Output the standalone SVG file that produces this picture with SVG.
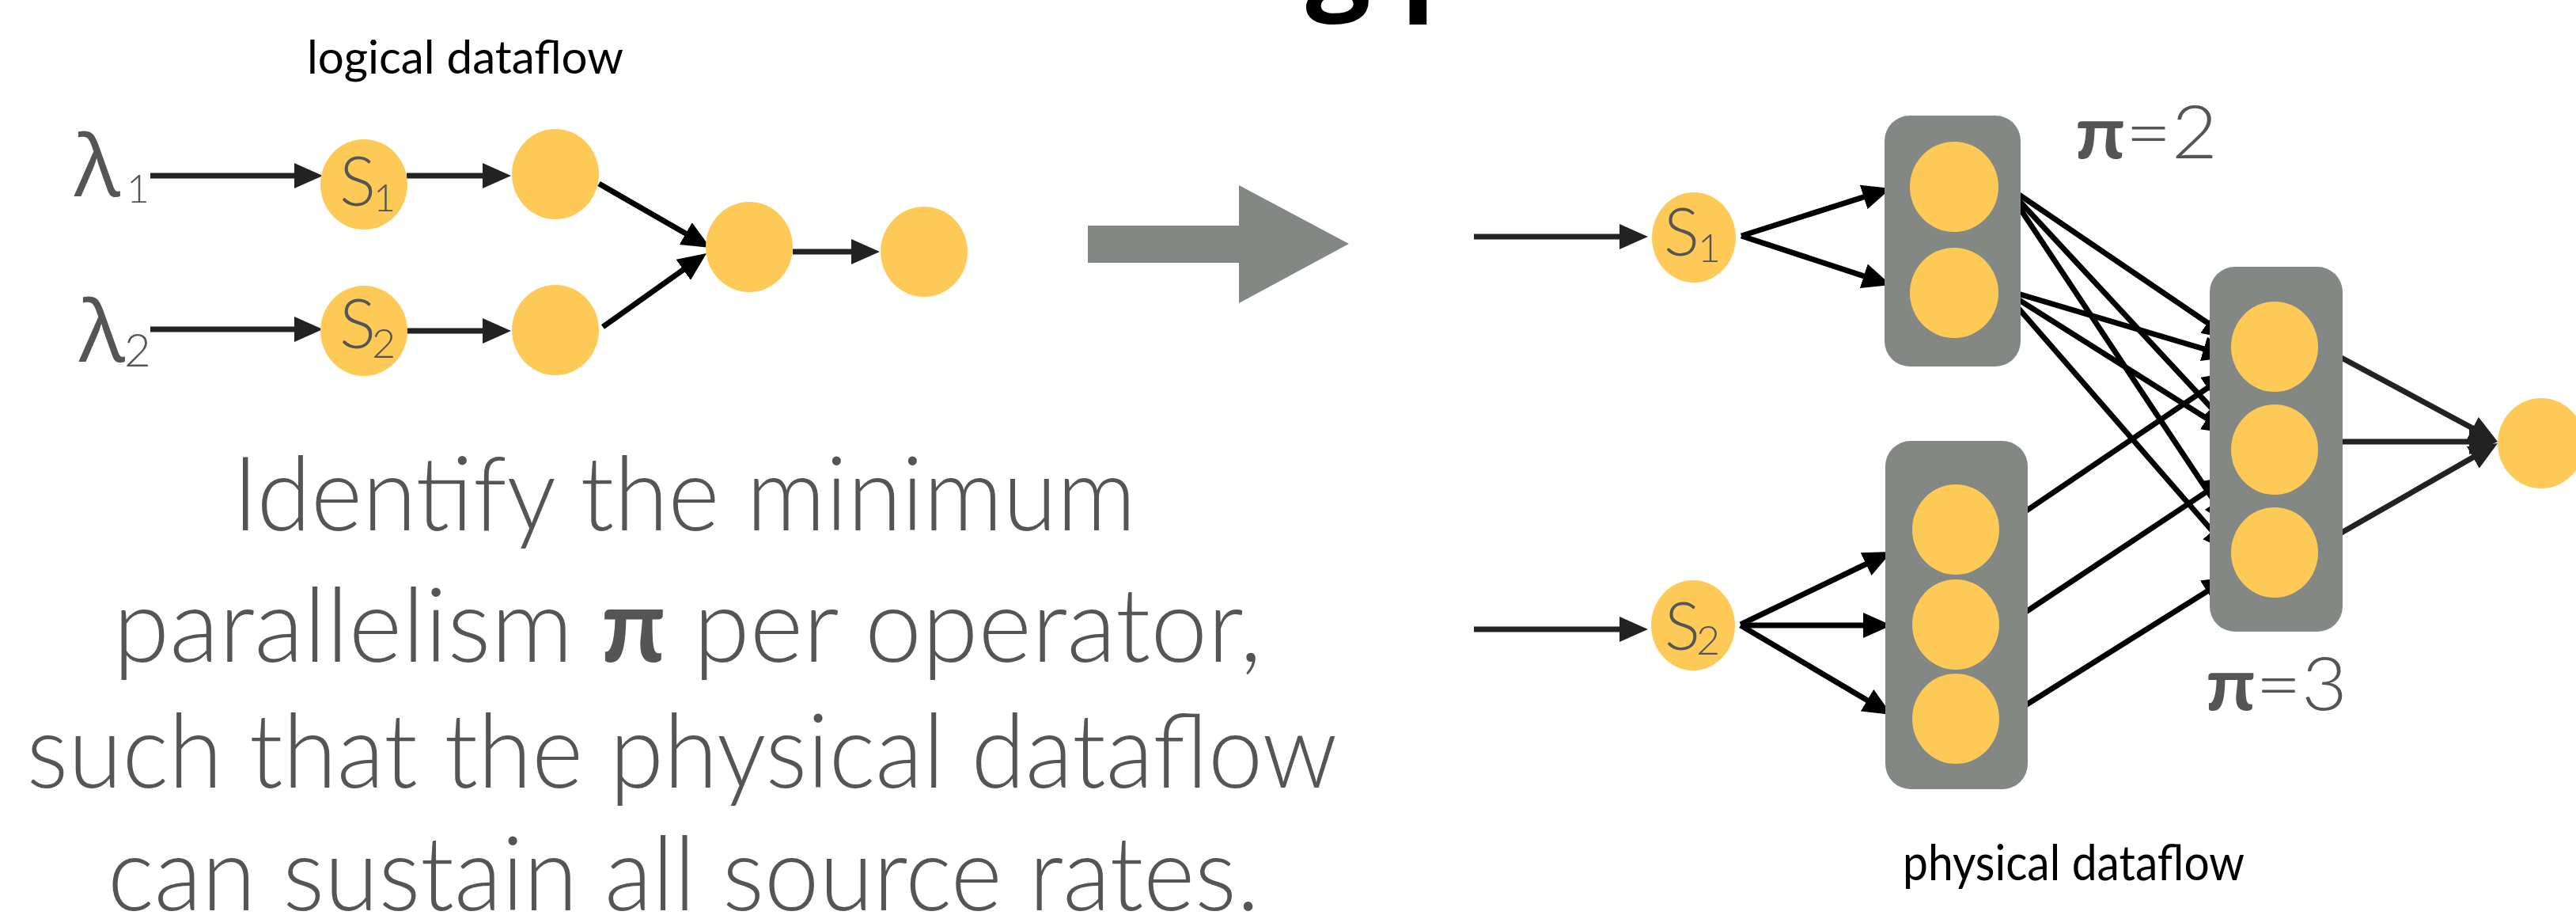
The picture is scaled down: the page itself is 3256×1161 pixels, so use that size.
<svg xmlns="http://www.w3.org/2000/svg" width="3256" height="1161" viewBox="0 0 3256 1161">
<style>
.bg{fill:#ffffff}
.node{fill:#FECA57}
.box{fill:#838885}
.big{fill:#838885}
.lbl{font-family:Lato,"Open Sans","Noto Sans",sans-serif;fill:#555555;font-weight:300}
.lam{font-family:"Open Sans","Noto Sans",sans-serif;fill:#555555;font-weight:400}
.cap{font-family:Lato,"Open Sans","Noto Sans",sans-serif;fill:#000000;font-weight:400}
.pi{font-weight:700}
.title{font-family:"Open Sans","Noto Sans",sans-serif;font-weight:700;fill:#000000}
.e1{stroke:#222222;stroke-width:7;fill:none;marker-end:url(#ah1)}
.e2{stroke:#000000;stroke-width:7;fill:none;marker-end:url(#ah2)}
</style>
<defs>
<marker id="ah1" markerUnits="userSpaceOnUse" markerWidth="36" markerHeight="32" refX="14" refY="16" orient="auto" viewBox="0 0 36 32">
<path d="M0,0 L36,16 L0,32 z" fill="#222222"/>
</marker>
<marker id="ah2" markerUnits="userSpaceOnUse" markerWidth="36" markerHeight="32" refX="14" refY="16" orient="auto" viewBox="0 0 36 32">
<path d="M0,0 L36,16 L0,32 z" fill="#000000"/>
</marker>
</defs>
<rect class="bg" x="0" y="0" width="3256" height="1161"/>

<g id="title"><text class="title" x="930" y="-4" font-size="145">The scaling problem</text></g>

<g id="logical-label"><text class="cap" x="388" y="93" font-size="58" textLength="400" lengthAdjust="spacingAndGlyphs">logical dataflow</text></g>
<g id="physical-label"><text class="cap" x="2405" y="1112" font-size="62" textLength="432" lengthAdjust="spacingAndGlyphs">physical dataflow</text></g>

<g id="lambda1"><text class="lam" x="94" y="248" font-size="108">λ</text><text class="lbl" x="160" y="256" font-size="50">1</text></g>
<g id="lambda2"><text class="lam" x="100" y="457" font-size="108">λ</text><text class="lbl" x="157" y="463" font-size="58">2</text></g>

<g id="big-arrow"><polygon class="big" points="1375,285 1566,285 1566,234 1705,308 1566,383 1566,332 1375,332"/></g>

<g id="statement">
<text class="lbl" x="865" y="670" font-size="131" text-anchor="middle" textLength="1142" lengthAdjust="spacingAndGlyphs">Identify the minimum</text>
<text class="lbl" x="869" y="836" font-size="131" text-anchor="middle" textLength="1452" lengthAdjust="spacingAndGlyphs">parallelism <tspan class="pi">π</tspan> per operator,</text>
<text class="lbl" x="862" y="995" font-size="131" text-anchor="middle" textLength="1657" lengthAdjust="spacingAndGlyphs">such that the physical dataflow</text>
<text class="lbl" x="864" y="1150" font-size="131" text-anchor="middle" textLength="1456" lengthAdjust="spacingAndGlyphs">can sustain all source rates.</text>
</g>

<g id="connectors">
<path class="e1" d="M190,222 H386"/>
<path class="e1" d="M514,222 H624"/>
<path class="e1" d="M190,416 H386"/>
<path class="e1" d="M514,418 H624"/>
<path class="e2" d="M757,232 L878.9,302"/>
<path class="e2" d="M762,413 L875.1,332.7"/>
<path class="e1" d="M1002,318 H1090"/>

<path class="e1" d="M1863,299 H2061"/>
<path class="e1" d="M1863,795 H2061"/>
<path class="e2" d="M2201,298 L2369,244.7"/>
<path class="e2" d="M2201,298 L2369.1,353.1"/>
<path class="e2" d="M2200,789 L2371.2,706.5"/>
<path class="e2" d="M2200,790 H2369"/>
<path class="e2" d="M2200,790 L2372.1,891.8"/>

<path class="e2" d="M2533,233 L2801.8,415.6"/>
<path class="e2" d="M2533,233 L2805,525.9"/>
<path class="e2" d="M2533,233 L2807.8,646.7"/>
<path class="e2" d="M2530,365 L2798.9,444.7"/>
<path class="e2" d="M2530,365 L2801.4,536.3"/>
<path class="e2" d="M2530,365 L2805.5,681.4"/>
<path class="e2" d="M2535,663 L2801.8,482.3"/>
<path class="e2" d="M2535,790 L2799.7,614.2"/>
<path class="e2" d="M2530,910 L2801.4,739.7"/>

<path class="e1" d="M2926,434 L3137.6,547.6"/>
<path class="e1" d="M2930,558 H3135"/>
<path class="e1" d="M2928,691 L3137.9,570.9"/>
</g>

<g id="logical-S1"><ellipse class="node" cx="460" cy="233" rx="55" ry="57"/><text class="lbl" x="429" y="260" font-size="86">S</text><text class="lbl" x="472" y="267" font-size="48">1</text></g>
<g id="logical-S2"><ellipse class="node" cx="460" cy="418" rx="55" ry="57"/><text class="lbl" x="429" y="440" font-size="86">S</text><text class="lbl" x="470" y="452" font-size="52">2</text></g>
<g id="logical-op1"><ellipse class="node" cx="702" cy="220" rx="55" ry="57"/></g>
<g id="logical-op2"><ellipse class="node" cx="702" cy="417" rx="55" ry="57"/></g>
<g id="logical-op3"><ellipse class="node" cx="947" cy="312" rx="55" ry="57"/></g>
<g id="logical-op4"><ellipse class="node" cx="1168" cy="318" rx="55" ry="57"/></g>

<g id="physical-S1"><ellipse class="node" cx="2141" cy="300" rx="53" ry="57"/><text class="lbl" x="2103" y="323" font-size="84">S</text><text class="lbl" x="2146" y="331" font-size="50">1</text></g>
<g id="physical-S2"><ellipse class="node" cx="2140" cy="790" rx="53" ry="57"/><text class="lbl" x="2104" y="821" font-size="84">S</text><text class="lbl" x="2144" y="827" font-size="52">2</text></g>

<g id="op1-pi2"><rect class="box" x="2382" y="146" width="172" height="317" rx="32"/><ellipse class="node" cx="2470" cy="236" rx="56" ry="57"/><ellipse class="node" cx="2470" cy="370" rx="56" ry="57"/></g>
<g id="op2-pi3"><rect class="box" x="2383" y="557" width="180" height="440" rx="32"/><ellipse class="node" cx="2472" cy="669" rx="55" ry="57"/><ellipse class="node" cx="2472" cy="789" rx="55" ry="57"/><ellipse class="node" cx="2472" cy="908" rx="55" ry="57"/></g>
<g id="op3-pi3"><rect class="box" x="2793" y="337" width="168" height="461" rx="32"/><ellipse class="node" cx="2875" cy="438" rx="55" ry="57"/><ellipse class="node" cx="2875" cy="568" rx="55" ry="57"/><ellipse class="node" cx="2875" cy="698" rx="55" ry="57"/></g>
<g id="op4-sink"><ellipse class="node" cx="3212" cy="560" rx="55" ry="57"/></g>

<g id="pi2-label"><text class="lbl" x="2623" y="200" font-size="92" textLength="180" lengthAdjust="spacingAndGlyphs"><tspan class="pi">π</tspan>=2</text></g>
<g id="pi3-label"><text class="lbl" x="2788" y="897" font-size="92" textLength="179" lengthAdjust="spacingAndGlyphs"><tspan class="pi">π</tspan>=3</text></g>
</svg>
